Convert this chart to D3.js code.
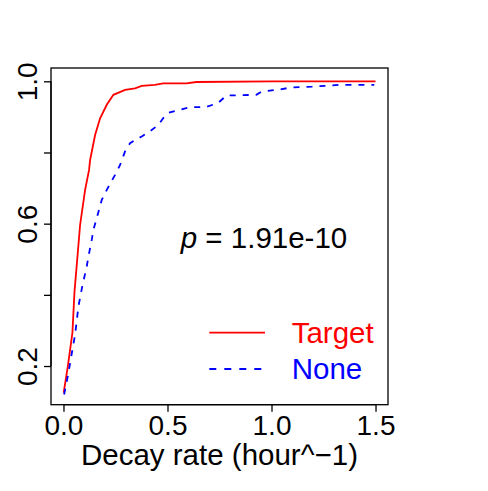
<!DOCTYPE html>
<html>
<head>
<meta charset="utf-8">
<script src="https://cdn.jsdelivr.net/npm/d3@7"></script>
<style>
  body { margin: 0; background: #fff; }
  svg text { font-family: "Liberation Sans", Arial, Helvetica, sans-serif; }
</style>
</head>
<body>
<svg id="chart" width="488" height="491"></svg>
<script>
// ---- data ----
const seriesNames = ["Target", "None"];
const seriesColors = ["#ff0000", "#0000ff"];
const targetX = [0.001, 0.021, 0.043, 0.053, 0.080, 0.104, 0.123, 0.128, 0.152, 0.176, 0.208, 0.240, 0.296, 0.344, 0.376, 0.439, 0.479, 0.591, 0.639, 1.0, 1.5];
const targetY = [0.125, 0.200, 0.294, 0.409, 0.597, 0.695, 0.751, 0.779, 0.849, 0.896, 0.934, 0.962, 0.976, 0.980, 0.987, 0.990, 0.994, 0.994, 0.998, 1.0, 1.0];
const noneX = [0.003, 0.024, 0.032, 0.056, 0.072, 0.091, 0.112, 0.120, 0.136, 0.144, 0.160, 0.184, 0.208, 0.248, 0.272, 0.296, 0.320, 0.344, 0.376, 0.415, 0.455, 0.479, 0.502, 0.559, 0.607, 0.687, 0.743, 0.783, 0.927, 0.952, 1.039, 1.096, 1.196, 1.326, 1.494];
const noneY = [0.120, 0.181, 0.209, 0.289, 0.368, 0.426, 0.480, 0.508, 0.555, 0.583, 0.616, 0.667, 0.695, 0.737, 0.765, 0.803, 0.826, 0.835, 0.845, 0.859, 0.877, 0.896, 0.911, 0.920, 0.927, 0.928, 0.939, 0.960, 0.962, 0.971, 0.977, 0.983, 0.985, 0.990, 0.990];
const xTicks = [0, 0.5, 1.0, 1.5];
const xTickLabels = ["0.0", "0.5", "1.0", "1.5"];
const yTicks = [0.2, 0.4, 0.6, 0.8, 1.0];
const yTickLabels = ["0.2", "", "0.6", "", "1.0"];
const xTitle = "Decay rate (hour^\u22121)";
const pLabel = "p";
const pValue = " = 1.91e-10";

// ---- layout ----
const L = 51, R = 388, T = 68, B = 404.7;
const FS = 29.5;
const FST = 28;
const svg = d3.select("#chart");

const x = d3.scaleLinear().domain([-0.06, 1.56]).range([L, R]);
const y = d3.scaleLinear().domain([0.0913, 1.0374]).range([B, T]);

// box
svg.append("rect").attr("x", L).attr("y", T).attr("width", R - L).attr("height", B - T)
  .attr("fill", "none").attr("stroke", "#000").attr("stroke-width", 1.3);

// x axis
const xAxis = d3.axisBottom(x).tickValues(xTicks).tickSize(7).tickPadding(4)
  .tickFormat((d, i) => xTickLabels[i]);
const gx = svg.append("g").attr("transform", `translate(0,${B})`).call(xAxis);
gx.select(".domain").attr("d", `M${x(xTicks[0])},0H${x(xTicks[xTicks.length - 1])}`).attr("stroke-width", 1.3);
gx.selectAll(".tick line").attr("stroke-width", 1.3);
gx.selectAll(".tick text").attr("font-size", FST).attr("fill", "#000")
  .attr("font-family", "Liberation Sans, Arial, sans-serif")
  .attr("y", null).attr("dy", null).attr("transform", `translate(0,${435 - B})`);

// y axis
const yAxis = d3.axisLeft(y).tickValues(yTicks).tickSize(7)
  .tickFormat((d, i) => yTickLabels[i]);
const gy = svg.append("g").attr("transform", `translate(${L},0)`).call(yAxis);
gy.select(".domain").attr("d", `M0,${y(yTicks[0])}V${y(yTicks[yTicks.length - 1])}`).attr("stroke-width", 1.3);
gy.selectAll(".tick line").attr("stroke-width", 1.3);
gy.selectAll(".tick text").attr("font-size", FST).attr("fill", "#000")
  .attr("font-family", "Liberation Sans, Arial, sans-serif")
  .attr("x", null).attr("dy", null).attr("text-anchor", "middle")
  .attr("transform", `translate(${37 - L},0) rotate(-90)`);

// lines
const line = d3.line().x(d => x(d[0])).y(d => y(d[1]));
const tData = targetX.map((v, i) => [v, targetY[i]]);
const nData = noneX.map((v, i) => [v, noneY[i]]);
svg.append("path").datum(tData).attr("d", line).attr("fill", "none")
  .attr("stroke", seriesColors[0]).attr("stroke-width", 1.8);
svg.append("path").datum(nData).attr("d", line).attr("fill", "none")
  .attr("stroke", seriesColors[1]).attr("stroke-width", 1.8).attr("stroke-dasharray", "6,7");

// x title
svg.append("text").attr("x", (L + R) / 2).attr("y", 465).attr("text-anchor", "middle")
  .attr("font-size", FS).attr("fill", "#000").text(xTitle);

// p value
const pt = svg.append("text").attr("x", 264).attr("y", 248).attr("text-anchor", "middle")
  .attr("font-size", FS).attr("fill", "#000");
pt.append("tspan").attr("font-style", "italic").text(pLabel);
pt.append("tspan").text(pValue);

// legend
const legY = [332.7, 369];
const legTextY = [343, 379];
seriesNames.forEach((n, i) => {
  svg.append("line").attr("x1", 209.3).attr("x2", i === 0 ? 265 : 264).attr("y1", legY[i]).attr("y2", legY[i])
    .attr("stroke", seriesColors[i]).attr("stroke-width", 1.8)
    .attr("stroke-dasharray", i === 1 ? "7,8" : null);
  svg.append("text").attr("x", 291.7).attr("y", legTextY[i]).attr("font-size", FS)
    .attr("fill", seriesColors[i]).text(n);
});
</script>
</body>
</html>
